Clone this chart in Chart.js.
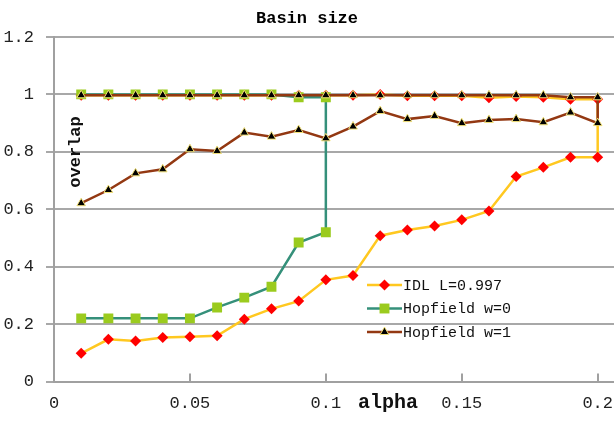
<!DOCTYPE html>
<html>
<head>
<meta charset="utf-8">
<script src="https://cdn.jsdelivr.net/npm/chart.js@4/dist/chart.umd.min.js"></script>
<style>
  html, body { margin: 0; padding: 0; background: #fff; }
  #wrap { width: 614px; height: 421px; }
</style>
</head>
<body>
<div id="wrap"><canvas id="grafico"></canvas></div>
<script>
// alpha values of the runs
const alphas = [0.01, 0.02, 0.03, 0.04, 0.05, 0.06, 0.07, 0.08, 0.09, 0.10,
                0.11, 0.12, 0.13, 0.14, 0.15, 0.16, 0.17, 0.18, 0.19, 0.20];

// IDL L=0.997 : upper branch and lower branch
const idlUpper = [0.997, 0.997, 0.997, 0.997, 0.997, 0.997, 0.997, 0.997, 0.997, 0.997,
                  0.997, 1.0, 0.995, 0.995, 0.995, 0.988, 0.993, 0.99, 0.983, 0.983];
const idlLower = [0.098, 0.147, 0.141, 0.153, 0.156, 0.159, 0.217, 0.253, 0.280, 0.354,
                  0.369, 0.508, 0.528, 0.542, 0.563, 0.594, 0.714, 0.746, 0.781, 0.781];

// Hopfield w=0 (only up to alpha 0.1)
const hopW0Alphas = [0.01, 0.02, 0.03, 0.04, 0.05, 0.06, 0.07, 0.08, 0.09, 0.10];
const hopW0Upper = [1.0, 1.0, 1.0, 1.0, 1.0, 1.0, 1.0, 1.0, 0.99, 0.99];
const hopW0Lower = [0.220, 0.220, 0.220, 0.220, 0.220, 0.258, 0.292, 0.330, 0.484, 0.520];

// Hopfield w=1
const hopW1Upper = [0.997, 0.997, 0.997, 0.997, 0.997, 0.997, 0.997, 0.997, 0.997, 0.997,
                    0.997, 0.997, 0.997, 0.997, 0.997, 0.997, 0.997, 0.997, 0.99, 0.99];
const hopW1Lower = [0.621, 0.667, 0.725, 0.739, 0.809, 0.803, 0.867, 0.853, 0.876, 0.847,
                    0.888, 0.942, 0.914, 0.925, 0.900, 0.911, 0.914, 0.903, 0.937, 0.900];

const seriesNames = ["IDL L=0.997", "Hopfield w=0", "Hopfield w=1"];
const xTicks = [0, 0.05, 0.1, 0.15, 0.2];
const yTicks = [0, 0.2, 0.4, 0.6, 0.8, 1.0, 1.2];
const xMax = 0.206;

// upper branch out, lower branch back
function loop(xs, up, low) {
    let pts = xs.map((x, i) => ({ x: x, y: up[i] }));
    for (let i = xs.length - 1; i >= 0; i--) pts.push({ x: xs[i], y: low[i] });
    return pts;
}

const fuente = "'Liberation Mono', 'DejaVu Sans Mono', monospace";
const numero = v => String(Math.round(v * 100) / 100);

// legend, inward x ticks and axis titles drawn inside the plot like the original
const extras = {
    id: "extras",
    afterDraw(chart) {
        const ctx = chart.ctx;
        const sx = chart.scales.x;
        const bottom = chart.chartArea.bottom;
        ctx.save();

        ctx.strokeStyle = "#A0A0A0";
        ctx.lineWidth = 2;
        xTicks.slice(1).forEach(v => {
            const px = Math.round(sx.getPixelForValue(v));
            ctx.beginPath();
            ctx.moveTo(px, bottom);
            ctx.lineTo(px, bottom - 8);
            ctx.stroke();
        });

        const filas = [285, 308.5, 332];
        chart.data.datasets.forEach((ds, i) => {
            const y = filas[i];
            ctx.strokeStyle = ds.borderColor;
            ctx.lineWidth = ds.borderWidth;
            ctx.beginPath();
            ctx.moveTo(367, y);
            ctx.lineTo(402, y);
            ctx.stroke();
            marcador(ctx, ds, 384.5, y);
            ctx.fillStyle = "#111";
            ctx.font = "15px " + fuente;
            ctx.textAlign = "left";
            ctx.textBaseline = "middle";
            ctx.fillText(ds.label, 403, y + 1);
        });

        ctx.fillStyle = "#111";
        ctx.font = "bold 20px " + fuente;
        ctx.textAlign = "center";
        ctx.textBaseline = "middle";
        ctx.fillText("alpha", 388, 403);

        ctx.translate(76, 152);
        ctx.rotate(-Math.PI / 2);
        ctx.font = "bold 17px " + fuente;
        ctx.fillText("overlap", 0, 0);
        ctx.restore();
    }
};

function marcador(ctx, ds, x, y) {
    const r = ds.pointRadius;
    ctx.fillStyle = ds.pointBackgroundColor;
    ctx.strokeStyle = ds.pointBorderColor;
    ctx.lineWidth = ds.pointBorderWidth;
    ctx.beginPath();
    if (ds.pointStyle === "rectRot") {
        ctx.moveTo(x, y - r); ctx.lineTo(x + r, y); ctx.lineTo(x, y + r); ctx.lineTo(x - r, y);
    } else if (ds.pointStyle === "rect") {
        const s = r * Math.SQRT1_2;
        ctx.rect(x - s, y - s, 2 * s, 2 * s);
    } else {
        ctx.moveTo(x, y - r);
        ctx.lineTo(x + r * Math.sin(2 * Math.PI / 3), y - r * Math.cos(2 * Math.PI / 3));
        ctx.lineTo(x + r * Math.sin(4 * Math.PI / 3), y - r * Math.cos(4 * Math.PI / 3));
    }
    ctx.closePath();
    ctx.fill();
    if (ds.pointBorderWidth) ctx.stroke();
}

document.addEventListener("DOMContentLoaded", function () {
    let ctx = document.getElementById("grafico").getContext("2d");

    new Chart(ctx, {
        type: "scatter",
        data: {
            datasets: [{
                label: seriesNames[0],
                data: loop(alphas, idlUpper, idlLower),
                showLine: true,
                borderColor: "#FFC820",
                borderWidth: 2.5,
                pointStyle: "rectRot",
                pointRadius: 5.5,
                pointBackgroundColor: "#FF0000",
                pointBorderColor: "#FF0000",
                pointBorderWidth: 0,
                order: 3
            }, {
                label: seriesNames[1],
                data: loop(hopW0Alphas, hopW0Upper, hopW0Lower),
                showLine: true,
                borderColor: "#35907A",
                borderWidth: 2.5,
                pointStyle: "rect",
                pointRadius: 7,
                pointBackgroundColor: "#9BCB1E",
                pointBorderColor: "#9BCB1E",
                pointBorderWidth: 0,
                order: 2
            }, {
                label: seriesNames[2],
                data: loop(alphas, hopW1Upper, hopW1Lower),
                showLine: true,
                borderColor: "#933812",
                borderWidth: 2.5,
                pointStyle: "triangle",
                pointRadius: 5,
                pointBackgroundColor: "#000000",
                pointBorderColor: "#F3E27A",
                pointBorderWidth: 1,
                order: 1
            }]
        },
        options: {
            responsive: true,
            maintainAspectRatio: false,
            animation: false,
            layout: { padding: 0, autoPadding: false },
            scales: {
                x: {
                    type: "linear",
                    min: 0,
                    max: xMax,
                    afterBuildTicks: s => { s.ticks = xTicks.map(v => ({ value: v })); },
                    afterFit: s => { s.height = 39.5; },
                    grid: {
                        drawOnChartArea: false,
                        tickLength: 12,
                        color: "rgba(0,0,0,0)"
                    },
                    border: { color: "#A0A0A0", width: 2 },
                    ticks: {
                        color: "#222",
                        padding: 0,
                        maxRotation: 0,
                        callback: numero,
                        font: { family: fuente, size: 17 }
                    }
                },
                y: {
                    min: 0,
                    max: 1.2,
                    afterBuildTicks: s => { s.ticks = yTicks.map(v => ({ value: v })); },
                    afterFit: s => { s.width = 54; },
                    grid: {
                        color: "#A8A8A8",
                        lineWidth: 2,
                        tickLength: 8
                    },
                    border: { color: "#A0A0A0", width: 2 },
                    ticks: {
                        color: "#222",
                        padding: 12,
                        callback: numero,
                        font: { family: fuente, size: 17 }
                    }
                }
            },
            plugins: {
                legend: { display: false },
                tooltip: { enabled: false },
                title: {
                    display: true,
                    text: "Basin size",
                    color: "#000",
                    font: { family: fuente, size: 17, weight: "bold" },
                    padding: { top: 9, bottom: 7.6 }
                }
            }
        },
        plugins: [extras]
    });
});
</script>
</body>
</html>
